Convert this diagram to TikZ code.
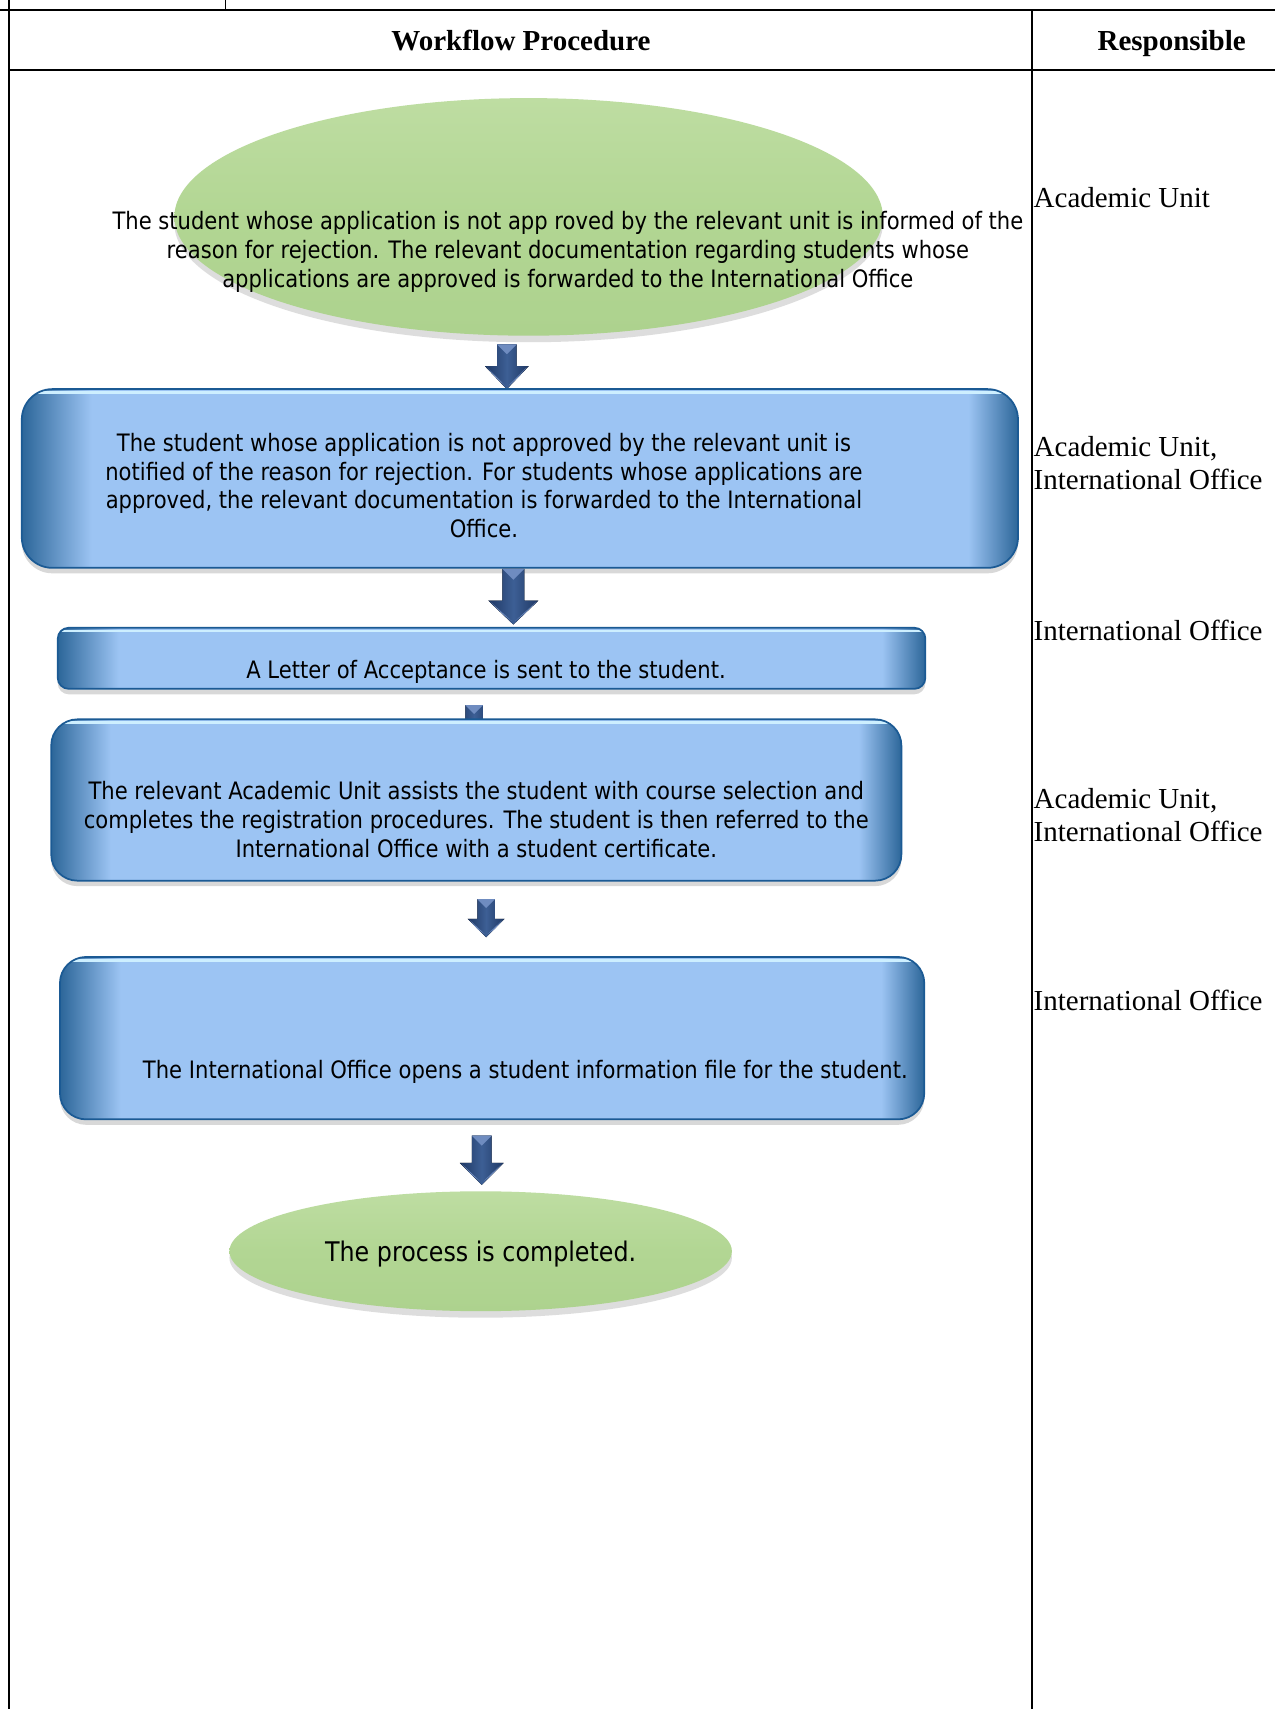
\documentclass[tikz,border=0pt]{standalone}
\usepackage{fontspec}
\setmainfont{Liberation Serif}
\newfontfamily\boxfont[FakeStretch=0.88]{DejaVu Sans}
\usetikzlibrary{shapes.geometric,shadows,calc}
\definecolor{boxfill}{HTML}{9CC4F3}
\definecolor{boxedge}{HTML}{2C6699}
\definecolor{boxline}{HTML}{1B5A94}
\definecolor{boxhi}{HTML}{CDEFFF}
\definecolor{arrdark}{HTML}{1F3864}
\definecolor{arrmid}{HTML}{3D5F95}
\definecolor{arrhi}{HTML}{6F8CC0}
\definecolor{ellfill}{HTML}{B2D693}
\definecolor{elltop}{HTML}{BEDDA2}
\definecolor{ellbot}{HTML}{ADD28E}
\pgfdeclarehorizontalshading{boxshade}{100bp}{color(0bp)=(boxedge); color(25bp)=(boxedge); color(28.5bp)=(boxfill); color(72.5bp)=(boxfill); color(75bp)=(boxedge); color(100bp)=(boxedge)}
\newcommand\blockarrow[5]{%
  \fill[left color=arrdark, right color=arrdark, middle color=arrmid]
    let \p1=(#1), \p2=(#2) in
    (\x1-#3,\y1) -- (\x1+#3,\y1) -- (\x1+#3,\y2+#5) -- (\x1+#4,\y2+#5) -- (\x1,\y2)
    -- (\x1-#4,\y2+#5) -- (\x1-#3,\y2+#5) -- cycle;
  \fill[arrhi] let \p1=(#1) in
    (\x1-#3,\y1) -- (\x1+#3,\y1) -- (\x1,\y1-#3) -- cycle;
  \fill[arrhi] let \p1=(#1), \p2=(#2) in
    (\x1-#4+1pt,\y2+#5-0.6pt) -- (\x1-0.8pt,\y2+1.6pt) -- (\x1-#3,\y2+0.45*#5) -- cycle;
  \fill[arrhi] let \p1=(#1), \p2=(#2) in
    (\x1+#4-1pt,\y2+#5-0.6pt) -- (\x1+0.8pt,\y2+1.6pt) -- (\x1+#3,\y2+0.45*#5) -- cycle;
}
\tikzset{
  tbl/.style={line width=0.8pt, draw=black},
  hdr/.style={font=\fontsize{13.3}{15}\selectfont\bfseries, inner sep=0pt, anchor=base},
  resp/.style={font=\fontsize{13.3}{15}\selectfont, inner sep=0pt, anchor=west, align=left},
  flowtxt/.style={font=\boxfont\fontsize{11}{13.25}\selectfont, align=center, inner sep=0pt},
  bluebox/.style={draw=boxline, line width=0.8pt, rounded corners=#1, shading=boxshade,
    drop shadow={shadow xshift=0pt, shadow yshift=-2.5pt, opacity=0.25, fill=black!60},
    path picture={
      \draw[boxhi, line width=1.2pt]
        ([yshift=-1.5pt]path picture bounding box.north west) --
        ([yshift=-1.5pt]path picture bounding box.north east);
    }},
  bluebox/.default=12pt,
  greenell/.style={ellipse, draw=none, inner sep=0pt,
    top color=elltop, bottom color=ellbot, middle color=ellfill,
    drop shadow={shadow xshift=0pt, shadow yshift=-3pt, opacity=0.22, fill=black!60}},
}
\begin{document}
\begin{tikzpicture}[x=0.5pt, y=-0.5pt]
\useasboundingbox (0,0) rectangle (1170,1568);
\fill[white] (0,0) rectangle (1170,1568);
% table
\draw[tbl] (0,9) -- (1170,9);
\draw[tbl] (8,0) -- (8,1568);
\draw[tbl] (207,0) -- (207,9);
\draw[tbl] (8,64) -- (1170,64);
\draw[tbl] (947,9) -- (947,1568);
\node[hdr] (h1) at (478,46) {Workflow Procedure};
\node[hdr] (h2) at (1075,46) {Responsible};
% responsible column
\node[resp] (r1) at (948,181) {Academic Unit};
\node[resp] (r2) at (948,425) {Academic Unit,\\International Office};
\node[resp] (r3) at (948,578) {International Office};
\node[resp] (r4) at (948,748) {Academic Unit,\\International Office};
\node[resp] (r5) at (948,918) {International Office};
% shapes
\node[greenell, minimum width=325pt, minimum height=109pt] (e1) at (485,199) {};
\node[flowtxt] (t1) at (521,231) {The student whose application is not app roved by the relevant unit is informed of the\\reason for rejection. The relevant documentation regarding students whose\\applications are approved is forwarded to the International Office};
\coordinate (a1s) at (465,316);
\coordinate (a1e) at (465,357);
\blockarrow{a1s}{a1e}{4.5pt}{10pt}{10.5pt}
\node[bluebox=14pt, minimum width=457pt, minimum height=82pt] (b2) at (477,439) {};
\node[flowtxt] (t2) at (444,445.5) {The student whose application is not approved by the relevant unit is\\notified of the reason for rejection. For students whose applications are\\approved, the relevant documentation is forwarded to the International\\Office.};
\coordinate (a2s) at (471,522);
\coordinate (a2e) at (471,573);
\blockarrow{a2s}{a2e}{5pt}{11.5pt}{11pt}
\node[bluebox=5pt, minimum width=398pt, minimum height=28pt] (b3) at (451,604) {};
\node[flowtxt] (t3) at (446,616) {A Letter of Acceptance is sent to the student.};
\coordinate (a3s) at (435,647);
\coordinate (a3e) at (435,684);
\blockarrow{a3s}{a3e}{4pt}{8pt}{9pt}
\node[bluebox=12pt, minimum width=390pt, minimum height=74pt] (b4) at (437,734) {};
\node[flowtxt] (t4) at (437,752) {The relevant Academic Unit assists the student with course selection and\\completes the registration procedures. The student is then referred to the\\International Office with a student certificate.};
\coordinate (a4s) at (446,825);
\coordinate (a4e) at (446,860);
\blockarrow{a4s}{a4e}{4pt}{8.5pt}{8.5pt}
\node[bluebox=12pt, minimum width=396.5pt, minimum height=74.5pt] (b5) at (451.5,952.5) {};
\node[flowtxt] (t5) at (482,983) {The International Office opens a student information file for the student.};
\coordinate (a5s) at (442,1042);
\coordinate (a5e) at (442,1087);
\blockarrow{a5s}{a5e}{4.5pt}{10pt}{10pt}
\node[greenell, minimum width=230.5pt, minimum height=55pt] (e2) at (441,1148) {};
\node[flowtxt, font=\boxfont\fontsize{12.4}{15}\selectfont] (t6) at (441,1151) {The process is completed.};
\end{tikzpicture}
\end{document}
